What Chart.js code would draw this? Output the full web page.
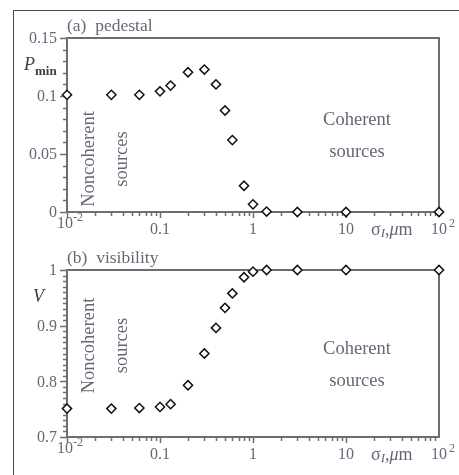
<!DOCTYPE html>
<html>
<head>
<meta charset="utf-8">
<script src="https://cdn.jsdelivr.net/npm/chart.js@4.4.1/dist/chart.umd.min.js"></script>
<style>
    html, body { margin: 0; padding: 0; background: #fff; }
    #figure { position: relative; width: 459px; height: 475px; overflow: hidden; }
    #frame { position: absolute; left: 13px; top: 10px; width: 460px; height: 480px;
             border-top: 1.5px solid #4a4a4a; border-left: 1.5px solid #4a4a4a; }
    canvas { position: absolute; left: 0; }
    #pedestalChart { top: 0; }
    #visibilityChart { top: 240px; }
</style>
</head>
<body>
<div id="figure">
    <div id="frame"></div>
    <canvas id="pedestalChart" width="459" height="240"></canvas>
    <canvas id="visibilityChart" width="459" height="235"></canvas>
</div>
<script>
// source size sigma_I in micrometres
const sigmaValues = [0.01, 0.03, 0.06, 0.1, 0.13, 0.2, 0.3, 0.4, 0.5, 0.6, 0.8, 1, 1.4, 3, 10, 100];
// (a) minimum of the pedestal
const pedestalValues = [0.101, 0.101, 0.101, 0.104, 0.109, 0.1205, 0.1228, 0.110, 0.0875, 0.062, 0.0226, 0.0066, 0.0004, 0, 0, 0];
// (b) fringe visibility
const visibilityValues = [0.751, 0.751, 0.752, 0.754, 0.759, 0.793, 0.850, 0.896, 0.932, 0.958, 0.987, 0.997, 1.0, 1.0, 1.0, 1.0];

const xTicks = [0.01, 0.1, 1, 10, 100];
const xTickLabels = [["10", "-2"], "0.1", "1", "10", ["10", "2"]];
const pedestalTicks = [0, 0.05, 0.1, 0.15];
const pedestalTickLabels = ["0", "0.05", "0.1", "0.15"];
const visibilityTicks = [0.7, 0.8, 0.9, 1];
const visibilityTickLabels = ["0.7", "0.8", "0.9", "1"];

const TEXT = "#646876";
const DARK = "#403b38";
const AXIS = "#6e6e6e";
const SERIF = "'Liberation Serif', 'Times New Roman', serif";

// axes, ticks and labels drawn by hand so the log ticks and powers look like the print
const framePlugin = {
    id: "frame",
    beforeDatasetsDraw(chart, args, opts) {
        const { ctx, chartArea: a, scales: { x, y } } = chart;
        ctx.save();

        // box
        ctx.strokeStyle = AXIS;
        ctx.lineWidth = 2;
        ctx.strokeRect(a.left, a.top, a.right - a.left, a.bottom - a.top);

        // y ticks, minor every 0.01
        ctx.lineWidth = 1.5;
        ctx.beginPath();
        const steps = Math.round((y.max - y.min) / 0.01);
        for (let i = 0; i <= steps; i++) {
            const py = Math.round(y.getPixelForValue(y.min + i * 0.01)) + 0.5;
            const major = i % opts.majorEvery === 0;
            ctx.moveTo(a.left - (major ? 7 : 4), py);
            ctx.lineTo(a.left, py);
        }
        // x ticks, 1..9 per decade
        for (let dec = -2; dec < 2; dec++) {
            for (let m = 1; m <= 9; m++) {
                const px = Math.round(x.getPixelForValue(m * Math.pow(10, dec))) + 0.5;
                ctx.moveTo(px, a.bottom);
                ctx.lineTo(px, a.bottom + (m === 1 ? 6 : 4));
            }
        }
        ctx.stroke();

        ctx.fillStyle = TEXT;
        ctx.font = "16px " + SERIF;
        ctx.textBaseline = "middle";

        // y tick labels
        ctx.textAlign = "right";
        opts.yTicks.forEach((v, i) => {
            ctx.fillText(opts.yLabels[i], a.left - 10, y.getPixelForValue(v) + 1);
        });

        // x tick labels
        const ly = a.bottom + 18;
        xTicks.forEach((v, i) => {
            const px = x.getPixelForValue(v);
            const lab = xTickLabels[i];
            if (Array.isArray(lab)) {
                const first = i === 0;
                const by = first ? ly - 6 : ly;
                ctx.font = "16px " + SERIF;
                ctx.textAlign = "center";
                ctx.fillText(lab[0], px - (first ? 2 : 0), by);
                ctx.font = "12px " + SERIF;
                ctx.textAlign = "left";
                ctx.fillText(lab[1], px + (first ? 6 : 10), by - 6);
                ctx.font = "16px " + SERIF;
            } else {
                ctx.textAlign = "center";
                ctx.fillText(lab, px, ly);
            }
        });

        // x axis title: sigma_I, mu m
        let tx = a.right - 68;
        ctx.textAlign = "left";
        const put = (s, font, dy) => {
            ctx.font = font;
            ctx.fillText(s, tx, ly + dy);
            tx += ctx.measureText(s).width;
        };
        put("σ", "18px " + SERIF, 0);
        put("I", "italic 13px " + SERIF, 4);
        put(",", "18px " + SERIF, 0);
        put("μ", "italic 18px " + SERIF, 0);
        put("m", "18px " + SERIF, 0);

        // panel title
        ctx.font = "17.5px " + SERIF;
        ctx.fillText(opts.title, a.left, a.top - 12);

        // y axis symbol
        ctx.fillStyle = DARK;
        ctx.font = "italic 18px " + SERIF;
        ctx.fillText(opts.symbol, opts.symbolX, a.top + opts.symbolDy);
        if (opts.subscript) {
            const w = ctx.measureText(opts.symbol).width;
            ctx.font = "bold 13px " + SERIF;
            ctx.fillText(opts.subscript, opts.symbolX + w, a.top + opts.symbolDy + 7);
        }

        // source regimes
        ctx.fillStyle = TEXT;
        ctx.font = "18.5px " + SERIF;
        ctx.textAlign = "center";
        const mid = opts.noncohY;
        [["Noncoherent", a.left + 22], ["sources", a.left + 55]].forEach(([s, cx]) => {
            ctx.save();
            ctx.translate(cx, mid);
            ctx.rotate(-Math.PI / 2);
            ctx.fillText(s, 0, 0);
            ctx.restore();
        });
        ctx.fillText("Coherent", 357, opts.cohY);
        ctx.fillText("sources", 357, opts.cohY + 32);

        ctx.restore();
    }
};

function makePanel(id, values, yMin, yMax, padTop, padBottom, panel) {
    return new Chart(document.getElementById(id), {
        type: "scatter",
        data: {
            datasets: [{
                data: sigmaValues.map((s, i) => ({ x: s, y: values[i] })),
                pointStyle: "rectRot",
                pointRadius: 4.6,
                pointBorderWidth: 1.5,
                borderColor: "#111",
                backgroundColor: "#fff",
                clip: false
            }]
        },
        options: {
            responsive: false,
            animation: false,
            events: [],
            layout: { padding: { left: 67, right: 20, top: padTop, bottom: padBottom } },
            scales: {
                x: { type: "logarithmic", min: 0.01, max: 100, display: false },
                y: { type: "linear", min: yMin, max: yMax, display: false }
            },
            plugins: {
                legend: { display: false },
                tooltip: { enabled: false },
                frame: panel
            }
        },
        plugins: [framePlugin]
    });
}

makePanel("pedestalChart", pedestalValues, 0, 0.15, 38, 28, {
    title: "(a)  pedestal",
    yTicks: pedestalTicks, yLabels: pedestalTickLabels, majorEvery: 5,
    symbol: "P", subscript: "min", symbolX: 24, symbolDy: 27,
    noncohY: 159, cohY: 120
});

makePanel("visibilityChart", visibilityValues, 0.7, 1.0, 30, 38, {
    title: "(b)  visibility",
    yTicks: visibilityTicks, yLabels: visibilityTickLabels, majorEvery: 10,
    symbol: "V", subscript: "", symbolX: 33, symbolDy: 27,
    noncohY: 105.5, cohY: 109
});
</script>
</body>
</html>
